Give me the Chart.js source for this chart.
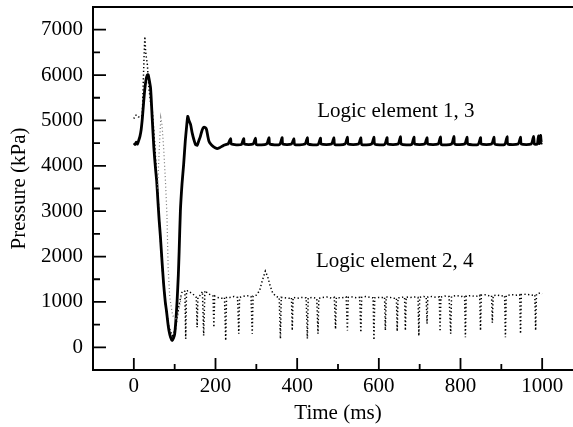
<!DOCTYPE html>
<html><head><meta charset="utf-8">
<script src="https://cdn.jsdelivr.net/npm/chart.js@4/dist/chart.umd.min.js"></script>
<style>
html,body{margin:0;padding:0;overflow:hidden;background:#fff;width:573px;height:427px}
#wrap{position:absolute;left:0;top:0;width:600px;height:427px}
</style>
</head><body><div id="wrap"><canvas id="c" width="600" height="427"></canvas></div>
<script>
// ---- axis ticks ----
const xTicks = [0, 200, 400, 600, 800, 1000];
const xMinorTicks = [100, 300, 500, 700, 900];
const yTicks = [0, 1000, 2000, 3000, 4000, 5000, 6000, 7000];
const yMinorTicks = [500, 1500, 2500, 3500, 4500, 5500, 6500];
const xTitle = 'Time (ms)';
const yTitle = 'Pressure (kPa)';

// ---- annotations [time, pressure, text] ----
const labels = [
  [449, 5190, 'Logic element 1, 3'],
  [446, 1890, 'Logic element 2, 4']
];

// ---- Logic element 1 (solid) : [time ms, pressure kPa] ----
const element1 = [
  [0,4500],[3,4470],[6,4520],[9,4480],[12,4560],[15,4650],[18,4800],[21,5060],[24,5400],[27,5700],
  [30,5900],[33,6000],[35,6010],[37,5930],[41,5710],[45,5050],[49,4400],[53,3950],[56,3660],[59,3220],
  [62,2800],[65,2450],[69,1900],[73,1390],[77,1000],[80,800],[83,560],[86,370],[90,220],[94,150],
  [97,200],[100,290],[103,600],[106,1030],[109,1600],[111,2120],[114,3000],[118,3600],[122,4030],[126,4550],
  [129,4840],[132,5090],[135,5000],[139,4910],[143,4720],[147,4580],[151,4470],[155,4450],[159,4550],[163,4650],
  [167,4780],[171,4850],[175,4840],[178,4800],[181,4660],[184,4540],[189,4470],[194,4430],[199,4400],[204,4380],
  [210,4400],[216,4430],[222,4460],[229,4480],
  [231,4480],[237,4600],[239,4480],[263,4470],[269,4600],[271,4480],[292,4480],[298,4610],[300,4470],
  [325,4480],[331,4620],[333,4480],[357,4470],[363,4620],[365,4480],[386,4480],[392,4600],[394,4470],
  [419,4480],[425,4620],[427,4480],[451,4470],[457,4610],[459,4480],[484,4480],[490,4620],[492,4470],
  [517,4480],[523,4630],[525,4480],[550,4480],[556,4620],[558,4470],[582,4480],[588,4630],[590,4480],
  [614,4470],[620,4620],[622,4480],[647,4480],[653,4640],[655,4480],[680,4470],[686,4630],[688,4480],
  [712,4480],[718,4620],[720,4480],[745,4480],[751,4640],[753,4470],[778,4480],[784,4650],[786,4480],
  [810,4480],[816,4630],[818,4480],[843,4470],[849,4620],[851,4480],[876,4480],[882,4630],[884,4480],
  [908,4470],[914,4640],[916,4480],[941,4480],[947,4630],[949,4480],[973,4480],[979,4650],[981,4480],
  [988,4480],[991,4660],[993,4490],[996,4670],[998,4500],[1000,4510]
];

// ---- Logic element 2, 4 (dotted) ----
const element2 = [
  [0,5040],[3,5110],[7,5120],[11,5080],[15,5070],[19,5090],[21,5200],[23,5800],[25,6400],[27,6850],
  [29,6500],[33,6240],[37,5710],[41,5400],[45,5240],[51,4500],[55,3900],[59,3370],[63,2700],[70,1700],
  [78,900],[86,450],[94,250],[102,400],[110,900],[117,1200],
  [122,1250],[125,1230],[127,190],[129,1240],[133,1250],[140,1200],[148,1150],[153,1100],[155,440],[157,1100],
  [163,1150],[168,1230],[171,260],[174,1250],[182,1180],[190,1150],[194,1130],[196,440],[198,1130],[205,1100],
  [215,1080],[222,1100],[225,150],[227,1100],[235,1100],[245,1120],[254,1100],[257,300],[259,1100],[267,1120],
  [277,1140],[287,1120],[290,300],[292,1130],[300,1150],[308,1250],[314,1450],[322,1680],[328,1550],[334,1350],
  [340,1200],[348,1120],[356,1100],[359,190],[361,1100],[370,1090],[380,1080],[386,1100],[388,370],[390,1100],
  [400,1080],[412,1100],[422,1090],[425,190],[427,1090],[438,1100],[448,1080],[451,300],[453,1080],[463,1100],
  [475,1110],[485,1080],[491,1100],[494,400],[496,1100],[506,1090],[515,1100],[520,1110],[523,370],[525,1100],
  [535,1110],[545,1090],[553,1100],[556,330],[558,1100],[568,1120],[578,1100],[586,1090],[588,160],[590,1090],
  [600,1100],[610,1100],[614,1110],[616,370],[618,1110],[628,1100],[638,1080],[643,1090],[645,350],[647,1090],
  [655,1100],[663,1110],[665,370],[667,1110],[678,1100],[690,1110],[696,1100],[698,250],[700,1100],[710,1120],
  [716,1110],[718,520],[720,1110],[730,1120],[740,1100],[748,1110],[750,350],[752,1110],[762,1130],[772,1120],
  [776,300],[778,1120],[790,1140],[802,1120],[810,1130],[812,220],[814,1130],[825,1140],[838,1120],[847,1150],
  [849,370],[851,1150],[862,1160],[872,1130],[876,1140],[878,540],[880,1140],[890,1150],[900,1130],[908,1140],
  [910,220],[912,1140],[925,1160],[938,1150],[945,1160],[947,300],[949,1160],[960,1170],[975,1150],[982,1160],
  [984,370],[986,1170],[995,1200],[1000,1180]
];

// ---- Logic element 4 early transient (faint dotted) ----
const element4 = [
  [58,3500],[62,4300],[66,5060],[69,4900],[73,4400],[77,3740],[81,2940],[84,1760],[88,1100],[95,700],
  [105,600],[112,900],[117,1150]
];

const FONT = "'Liberation Serif', 'Times New Roman', serif";
const toXY = arr => arr.map(([x, y]) => ({x, y}));

const frameTicks = {
  id: 'frameTicks',
  afterDatasetsDraw(chart) {
    const {ctx, chartArea: a, scales: {x, y}} = chart;
    ctx.save();
    ctx.strokeStyle = '#000';
    ctx.lineWidth = 2;
    ctx.beginPath();
    ctx.moveTo(a.left, a.top); ctx.lineTo(a.right, a.top);
    ctx.lineTo(a.right, a.bottom); ctx.lineTo(a.left, a.bottom); ctx.closePath();
    ctx.stroke();
    ctx.lineWidth = 1.8;
    ctx.beginPath();
    const tickX = (v, len) => { const p = x.getPixelForValue(v); ctx.moveTo(p, a.bottom); ctx.lineTo(p, a.bottom - len); };
    const tickY = (v, len) => { const p = y.getPixelForValue(v); ctx.moveTo(a.left, p); ctx.lineTo(a.left + len, p); };
    xTicks.forEach(v => tickX(v, 12));
    xMinorTicks.forEach(v => tickX(v, 6));
    yTicks.forEach(v => tickY(v, 13));
    yMinorTicks.forEach(v => tickY(v, 7));
    ctx.stroke();
    ctx.fillStyle = '#000';
    ctx.font = '21px ' + FONT;
    ctx.textAlign = 'left';
    ctx.textBaseline = 'middle';
    labels.forEach(([t, p, s]) => ctx.fillText(s, x.getPixelForValue(t), y.getPixelForValue(p)));
    ctx.restore();
  }
};

new Chart(document.getElementById('c'), {
  type: 'line',
  data: {
    datasets: [
      {label: 'Logic element 4', data: toXY(element4), borderColor: '#777', borderWidth: 1.2,
       borderDash: [1, 2.5], pointRadius: 0, tension: 0, fill: false},
      {label: 'Logic element 2, 4', data: toXY(element2), borderColor: '#000', borderWidth: 1.5,
       borderDash: [1.3, 2.4], pointRadius: 0, tension: 0, fill: false},
      {label: 'Logic element 1, 3', data: toXY(element1), borderColor: '#000', borderWidth: 2.8,
       pointRadius: 0, tension: 0.2, fill: false}
    ]
  },
  options: {
    responsive: false,
    animation: false,
    events: [],
    layout: {padding: {left: 0, right: 17, top: 7, bottom: 0}},
    plugins: {legend: {display: false}, tooltip: {enabled: false}},
    scales: {
      x: {
        type: 'linear', min: -100, max: 1100,
        afterBuildTicks: s => { s.ticks = xTicks.map(v => ({value: v})); },
        afterFit: s => { s.height = 57; s.paddingLeft = 0; s.paddingRight = 0; },
        grid: {display: false, drawTicks: false},
        border: {display: false},
        ticks: {color: '#000', font: {family: FONT, size: 21}, padding: 4, maxRotation: 0, autoSkip: false,
                callback: v => String(v)},
        title: {display: true, text: xTitle, color: '#000', font: {family: FONT, size: 21}, padding: {top: 0, bottom: 1}}
      },
      y: {
        type: 'linear', min: -500, max: 7500,
        afterBuildTicks: s => { s.ticks = yTicks.map(v => ({value: v})); },
        afterFit: s => { s.width = 93; s.paddingTop = 0; s.paddingBottom = 0; },
        grid: {display: false, drawTicks: false},
        border: {display: false},
        ticks: {color: '#000', font: {family: FONT, size: 21}, padding: 10, autoSkip: false,
                callback: v => String(v)},
        title: {display: true, text: yTitle, color: '#000', font: {family: FONT, size: 21}, padding: {top: 7, bottom: 0}}
      }
    }
  },
  plugins: [frameTicks]
});
</script>
</body></html>
